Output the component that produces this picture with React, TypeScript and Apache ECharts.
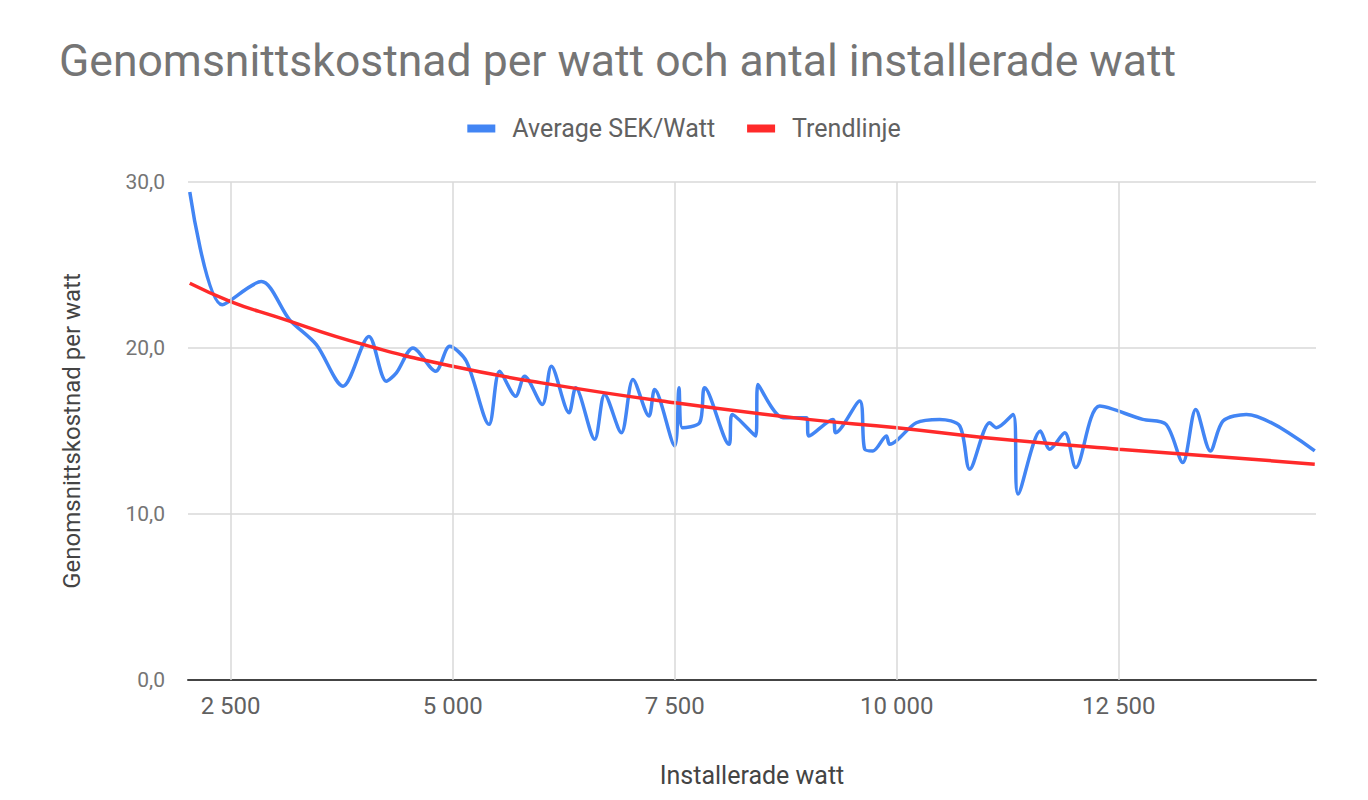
import React, { useEffect, useRef } from "react";
import * as echarts from "echarts";

const blueX = [
  2040, 2406, 2846, 3164, 3465, 3765, 4057, 4253, 4366, 4553, 4808, 4966, 5154, 5409, 5529, 5709,
  5810, 6009, 6111, 6310, 6385, 6599, 6711, 6899, 7030, 7210, 7274, 7499, 7548, 7586, 7781, 7837,
  8111, 8148, 8411, 8437, 8719, 8982, 9011, 9281, 9312, 9582, 9639, 9732, 9883, 9920, 10220, 10483,
  10709, 10821, 11046, 11122, 11309, 11365, 11617, 11722, 11891, 12015, 12285, 12769, 13032, 13220,
  13366, 13531, 13673, 13936, 14706,
];
const blueY = [
  29.4, 22.6, 24.0, 21.7, 20.2, 17.7, 20.7, 18.0, 18.5, 20.0, 18.6, 20.1, 19.2, 15.4, 18.6, 17.1,
  18.3, 16.6, 18.9, 16.1, 17.6, 14.5, 17.2, 14.9, 18.1, 15.9, 17.5, 14.1, 17.6, 15.2, 15.5, 17.6,
  14.2, 16.0, 14.7, 17.8, 15.8, 15.8, 14.7, 15.7, 14.9, 16.8, 13.9, 13.8, 14.7, 14.2, 15.5, 15.7,
  15.3, 12.7, 15.5, 15.2, 16.0, 11.2, 15.0, 13.9, 14.9, 12.8, 16.5, 15.7, 15.4, 13.1,
  16.3, 13.8, 15.6, 16.0, 13.8,
];

const trendX = [2040, 2500, 3000, 4000, 5000, 6000, 7500, 9000, 10000, 11000, 12500, 14000, 14706];
const trendY = [23.9, 22.8, 21.9, 20.2, 18.9, 17.9, 16.7, 15.7, 15.2, 14.6, 13.9, 13.3, 13.0];

const xTicks = [2500, 5000, 7500, 10000, 12500];

const seriesNames = ["Average SEK/Watt", "Trendlinje"];
const titleText = "Genomsnittskostnad per watt och antal installerade watt";
const xName = "Installerade watt";
const yName = "Genomsnittskostnad per watt";

const FONT = "Roboto, 'Noto Sans', Arial, sans-serif";

function fmtThousands(v: number): string {
  const s = String(Math.round(v));
  return s.replace(/\B(?=(\d{3})+(?!\d))/g, " ");
}

export default function App() {
  const ref = useRef<HTMLDivElement>(null);
  useEffect(() => {
    document.body.style.margin = "0";
    if (!ref.current) return;
    const chart = echarts.init(ref.current, null, { renderer: "svg" });
    const blue = blueX.map((x, i) => [x, blueY[i]]);
    const trend = trendX.map((x, i) => [x, trendY[i]]);
    chart.setOption({
      animation: false,
      backgroundColor: "#ffffff",
      textStyle: { fontFamily: FONT },
      title: {
        text: titleText,
        left: 54,
        top: 33,
        textStyle: { fontFamily: FONT, fontSize: 44.5, fontWeight: "normal", color: "#757575" },
      },
      legend: {
        top: 111,
        left: "center",
        icon: "rect",
        itemWidth: 28,
        itemHeight: 8,
        itemGap: 32,
        data: seriesNames,
        textStyle: { fontFamily: FONT, fontSize: 25, color: "#616161", padding: [0, 0, 0, 12] },
      },
      grid: { left: 188, right: 52, top: 182, bottom: 120, containLabel: false },
      xAxis: {
        type: "value",
        min: 2020,
        max: 14720,
        name: xName,
        nameLocation: "middle",
        nameGap: 83,
        nameTextStyle: { fontFamily: FONT, fontSize: 25, color: "#444444" },
        axisLine: { show: true, lineStyle: { color: "#444444", width: 2 } },
        axisTick: { show: false },
        splitLine: { show: false },
        axisLabel: {
          customValues: xTicks,
          formatter: (v: number) => fmtThousands(v),
          fontFamily: FONT,
          fontSize: 24,
          color: "#616161",
          margin: 14,
        },
      },
      yAxis: {
        type: "value",
        min: 0,
        max: 30,
        interval: 10,
        name: yName,
        nameLocation: "middle",
        nameGap: 104,
        nameTextStyle: { fontFamily: FONT, fontSize: 24, color: "#444444" },
        axisLine: { show: false },
        axisTick: { show: false },
        splitLine: { show: true, lineStyle: { color: "#d9d9d9", width: 1.5 } },
        axisLabel: {
          formatter: (v: number) => v.toFixed(1).replace(".", ","),
          fontFamily: FONT,
          fontSize: 21,
          color: "#757575",
          margin: 23,
        },
      },
      series: [
        {
          name: "grid-x",
          type: "line",
          data: [],
          silent: true,
          z: 1,
          markLine: {
            silent: true,
            symbol: "none",
            label: { show: false },
            lineStyle: { color: "#d9d9d9", width: 1.5, type: "solid" },
            data: xTicks.map((t) => ({ xAxis: t })),
          },
        },
        {
          name: seriesNames[0],
          type: "line",
          data: blue,
          smooth: 0.3,
          showSymbol: false,
          symbol: "none",
          z: 3,
          itemStyle: { color: "#4285f4" },
          lineStyle: { color: "#4285f4", width: 3.5 },
        },
        {
          name: seriesNames[1],
          type: "line",
          data: trend,
          smooth: true,
          showSymbol: false,
          symbol: "none",
          z: 4,
          itemStyle: { color: "#ff2a2a" },
          lineStyle: { color: "#ff2a2a", width: 3.5 },
        },
      ],
    });
    return () => chart.dispose();
  }, []);
  return <div ref={ref} style={{ width: 1368, height: 800 }} />;
}
